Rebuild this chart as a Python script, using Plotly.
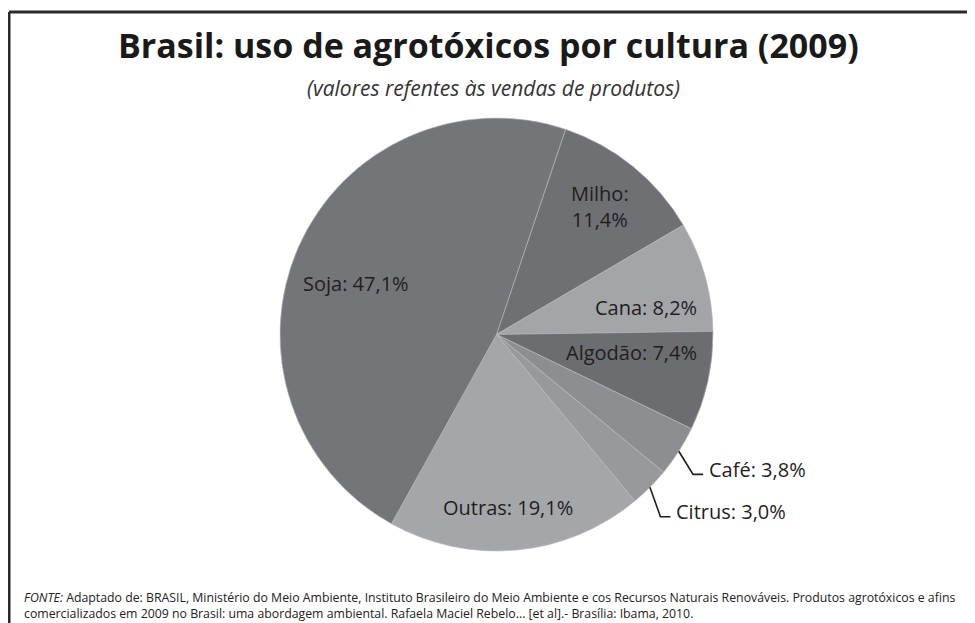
import math
import plotly.graph_objects as go

# ---- data ----
categories = ["Milho", "Cana", "Algodão", "Café", "Citrus", "Outras", "Soja"]
values = [11.4, 8.2, 7.4, 3.8, 3.0, 19.1, 47.1]
value_labels = ["11,4%", "8,2%", "7,4%", "3,8%", "3,0%", "19,1%", "47,1%"]

# ---- style ----
colors = ["#6f7074", "#a4a5a9", "#6c6d71", "#8d8e92", "#98999d", "#a5a6aa", "#747579"]
label_mode = ["in2", "in", "in", "out", "out", "in", "in"]
label_rfrac = [0.76, 0.70, 0.63, 1.155, 1.16, 0.80, 0.69]
label_dang = [0, 5.4, -4.9, 0, 0, 1.4, -4]
rotation = 18.6

OFF = 8  # page body margin in the browser
W, H = 975 - OFF, 623 - OFF
CX, CY, R = 496.5, 334.5, 216.5

def px(x, y):
    return (x - OFF) / W, 1 - (y - OFF) / H

fig = go.Figure()
dx0, dy0 = px(CX - R, CY + R)
dx1, dy1 = px(CX + R, CY - R)
fig.add_trace(go.Pie(
    labels=categories, values=values, sort=False, direction="clockwise",
    rotation=rotation, textinfo="none", hoverinfo="label+percent",
    marker=dict(colors=colors, line=dict(color="#b8b9bd", width=0.6)),
    domain=dict(x=[dx0, dx1], y=[dy0, dy1]),
    showlegend=False,
))

total = sum(values)
cum = 0.0
annotations = []
shapes = []
lab_font = dict(family="Open Sans", size=20, color="#1e1e1e")
for i, (c, v) in enumerate(zip(categories, values)):
    mid = rotation + (cum + v / 2) / total * 360
    cum += v
    ang = math.radians(mid + label_dang[i])
    rr = label_rfrac[i] * R
    lx = CX + rr * math.sin(ang)
    ly = CY - rr * math.cos(ang)
    if label_mode[i] == "out":
        ex = CX + R * math.sin(math.radians(mid))
        ey = CY - R * math.cos(math.radians(mid))
        pts = [(ex, ey), (lx - 14, ly + 5), (lx - 4, ly + 5)]
        path = "M " + " L ".join(f"{px(a, b)[0]},{px(a, b)[1]}" for a, b in pts)
        shapes.append(dict(type="path", xref="paper", yref="paper", path=path,
                           line=dict(color="#1e1e1e", width=1.6)))
        x, y = px(lx, ly)
        annotations.append(dict(x=x, y=y, xref="paper", yref="paper", text=f"{c}: {value_labels[i]}",
                                showarrow=False, xanchor="left", yanchor="middle", font=lab_font))
    else:
        txt = f"{c}:<br>{value_labels[i]}" if label_mode[i] == "in2" else f"{c}: {value_labels[i]}"
        x, y = px(lx, ly)
        annotations.append(dict(x=x, y=y, xref="paper", yref="paper", text=txt,
                                showarrow=False, xanchor="center", yanchor="middle", font=lab_font))

# titles
tx, ty = px(488, 45)
annotations.append(dict(x=tx, y=ty, xref="paper", yref="paper", showarrow=False,
                        text="<b>Brasil: uso de agrotóxicos por cultura (2009)</b>",
                        font=dict(family="Open Sans", size=34, color="#1a1a1a"),
                        xanchor="center", yanchor="middle"))
sx, sy = px(493, 88)
annotations.append(dict(x=sx, y=sy, xref="paper", yref="paper", showarrow=False,
                        text="<i>(valores refentes às vendas de produtos)</i>",
                        font=dict(family="Open Sans", size=21, color="#333333"),
                        xanchor="center", yanchor="middle"))
fx, fy = px(22, 605)
annotations.append(dict(x=fx, y=fy, xref="paper", yref="paper", showarrow=False, align="left",
                        text=("<i>FONTE:</i> Adaptado de: BRASIL, Ministério do Meio Ambiente, Instituto Brasileiro do Meio Ambiente e cos Recursos Naturais Renováveis. Produtos agrotóxicos e afins"
                              "<br>comercializados em 2009 no Brasil: uma abordagem ambiental. Rafaela Maciel Rebelo... [et al].- Brasília: Ibama, 2010."),
                        font=dict(family="Open Sans", size=12.3, color="#222222"),
                        xanchor="left", yanchor="middle"))

# frame (top and left border)
x0, y0 = px(9, 12)
shapes.append(dict(type="line", xref="paper", yref="paper", x0=x0, y0=y0, x1=1, y1=y0,
                   line=dict(color="#2a2a2a", width=3)))
shapes.append(dict(type="line", xref="paper", yref="paper", x0=x0, y0=y0, x1=x0, y1=0,
                   line=dict(color="#2a2a2a", width=3)))

fig.update_layout(width=W, height=H, margin=dict(l=0, r=0, t=0, b=0),
                  paper_bgcolor="white", plot_bgcolor="white",
                  annotations=annotations, shapes=shapes)
fig.write_html("out.html")
